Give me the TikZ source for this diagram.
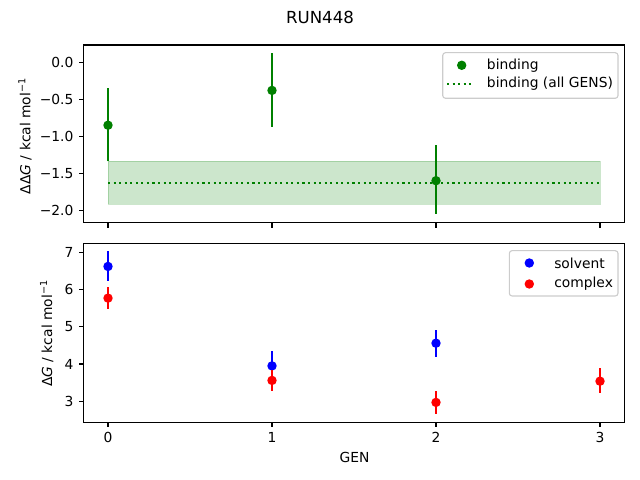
\documentclass[tikz,border=0pt]{standalone}
\usepackage{fontspec}
\setmainfont{DejaVu Sans}
\usepackage{xcolor}
\usepackage{tikz}

\definecolor{mplgreen}{HTML}{008000}
\definecolor{legframe}{HTML}{CCCCCC}

\tikzset{
  axframe/.style={line width=0.8bp},
  tickmark/.style={line width=0.8bp},
  errbar/.style={line width=1.5bp},
  txt/.style={inner sep=0pt, font=\fontsize{10}{12}\selectfont},
  legbox/.style={draw=legframe, fill=white, fill opacity=0.8, rounded corners=2bp, line width=0.8bp},
  dotline/.style={line width=1.5bp, dash pattern=on 1.5bp off 2.5bp}
}

\begin{document}
\begin{tikzpicture}[x=0.72bp, y=0.72bp]
    \useasboundingbox (0,0) rectangle (640,480);

    \node[txt, font=\fontsize{12}{14}\selectfont] (title) at (320,463) {RUN448};

    % upper panel: binding
    \begin{scope}[shift={(108,417.7)}, x=118.08bp, y=53.28bp]
      \filldraw[fill=mplgreen, draw=mplgreen, fill opacity=0.2, draw opacity=0.2] (0,-1.334) rectangle (3,-1.92);
      \draw[mplgreen, dotline] (0,-1.63) -- (3,-1.63);

      \foreach \g/\v/\hi/\lo in {0/-0.85/-0.35/-1.34, 1/-0.38/0.12/-0.87, 2/-1.6/-1.12/-2.05} {
        \draw[mplgreen, errbar] (\g,\lo) -- (\g,\hi);
        \fill[mplgreen] (\g,\v) circle[radius=3.4bp];
      }

      \draw[axframe] (-0.15,-2.17) rectangle (3.15,0.234);
      \foreach \x in {0,...,3}
        \draw[tickmark] (\x,-2.17) -- ++(0,-3.5bp);
      \foreach \y/\lab [count=\i] in {0/0.0, -0.5/−0.5, -1/−1.0, -1.5/−1.5, -2/−2.0} {
        \draw[tickmark] (-0.15,\y) -- ++(-3.5bp,0);
        \node[txt, anchor=east, xshift=-7bp] (ty\i) at (-0.15,\y) {\lab};
      }
    \end{scope}
    \node[txt, rotate=90] (ylabtop) at (25,344) {ΔΔ\textit{G} / kcal mol\textsuperscript{−1}};

    \draw[legbox] (442.7,381.7) rectangle (618,427.3);
    \fill[mplgreen] (461.7,414.7) circle[radius=3.4bp];
    \node[txt, anchor=west] (legbind) at (486.7,414.7) {binding};
    \draw[mplgreen, dotline] (447,396) -- (474,396);
    \node[txt, anchor=west] (legall) at (486.7,396) {binding (all GENS)};

    % lower panel: solvent and complex
    \begin{scope}[shift={(108,-33.05)}, x=118.08bp, y=26.82bp]
      \foreach \g/\v/\hi/\lo in {0/6.62/7.03/6.23, 1/3.95/4.35/3.55, 2/4.56/4.91/4.20} {
        \draw[blue, errbar] (\g,\lo) -- (\g,\hi);
        \fill[blue] (\g,\v) circle[radius=3.4bp];
      }
      \foreach \g/\v/\hi/\lo in {0/5.77/6.06/5.48, 1/3.56/3.85/3.28, 2/2.97/3.28/2.67, 3/3.54/3.89/3.23} {
        \draw[red, errbar] (\g,\lo) -- (\g,\hi);
        \fill[red] (\g,\v) circle[radius=3.4bp];
      }

      \draw[axframe] (-0.15,2.44) rectangle (3.15,7.24);
      \foreach \x in {0,...,3} {
        \draw[tickmark] (\x,2.44) -- ++(0,-3.5bp);
        \node[txt, anchor=north, yshift=-7bp] (tx\x) at (\x,2.44) {\x};
      }
      \foreach \y in {3,...,7} {
        \draw[tickmark] (-0.15,\y) -- ++(-3.5bp,0);
        \node[txt, anchor=east, xshift=-7bp] (tb\y) at (-0.15,\y) {\y};
      }
    \end{scope}
    \node[txt, rotate=90] (ylabbot) at (46.7,146.7) {Δ\textit{G} / kcal mol\textsuperscript{−1}};
    \node[txt] (xlab) at (354.5,22.3) {GEN};

    \draw[legbox] (509.3,184) rectangle (618,229.3);
    \fill[blue] (529.3,217) circle[radius=3.4bp];
    \node[txt, anchor=west] (legsolv) at (554,217) {solvent};
    \fill[red] (529.3,196) circle[radius=3.4bp];
    \node[txt, anchor=west] (legcomp) at (554,196) {complex};
\end{tikzpicture}
\end{document}
